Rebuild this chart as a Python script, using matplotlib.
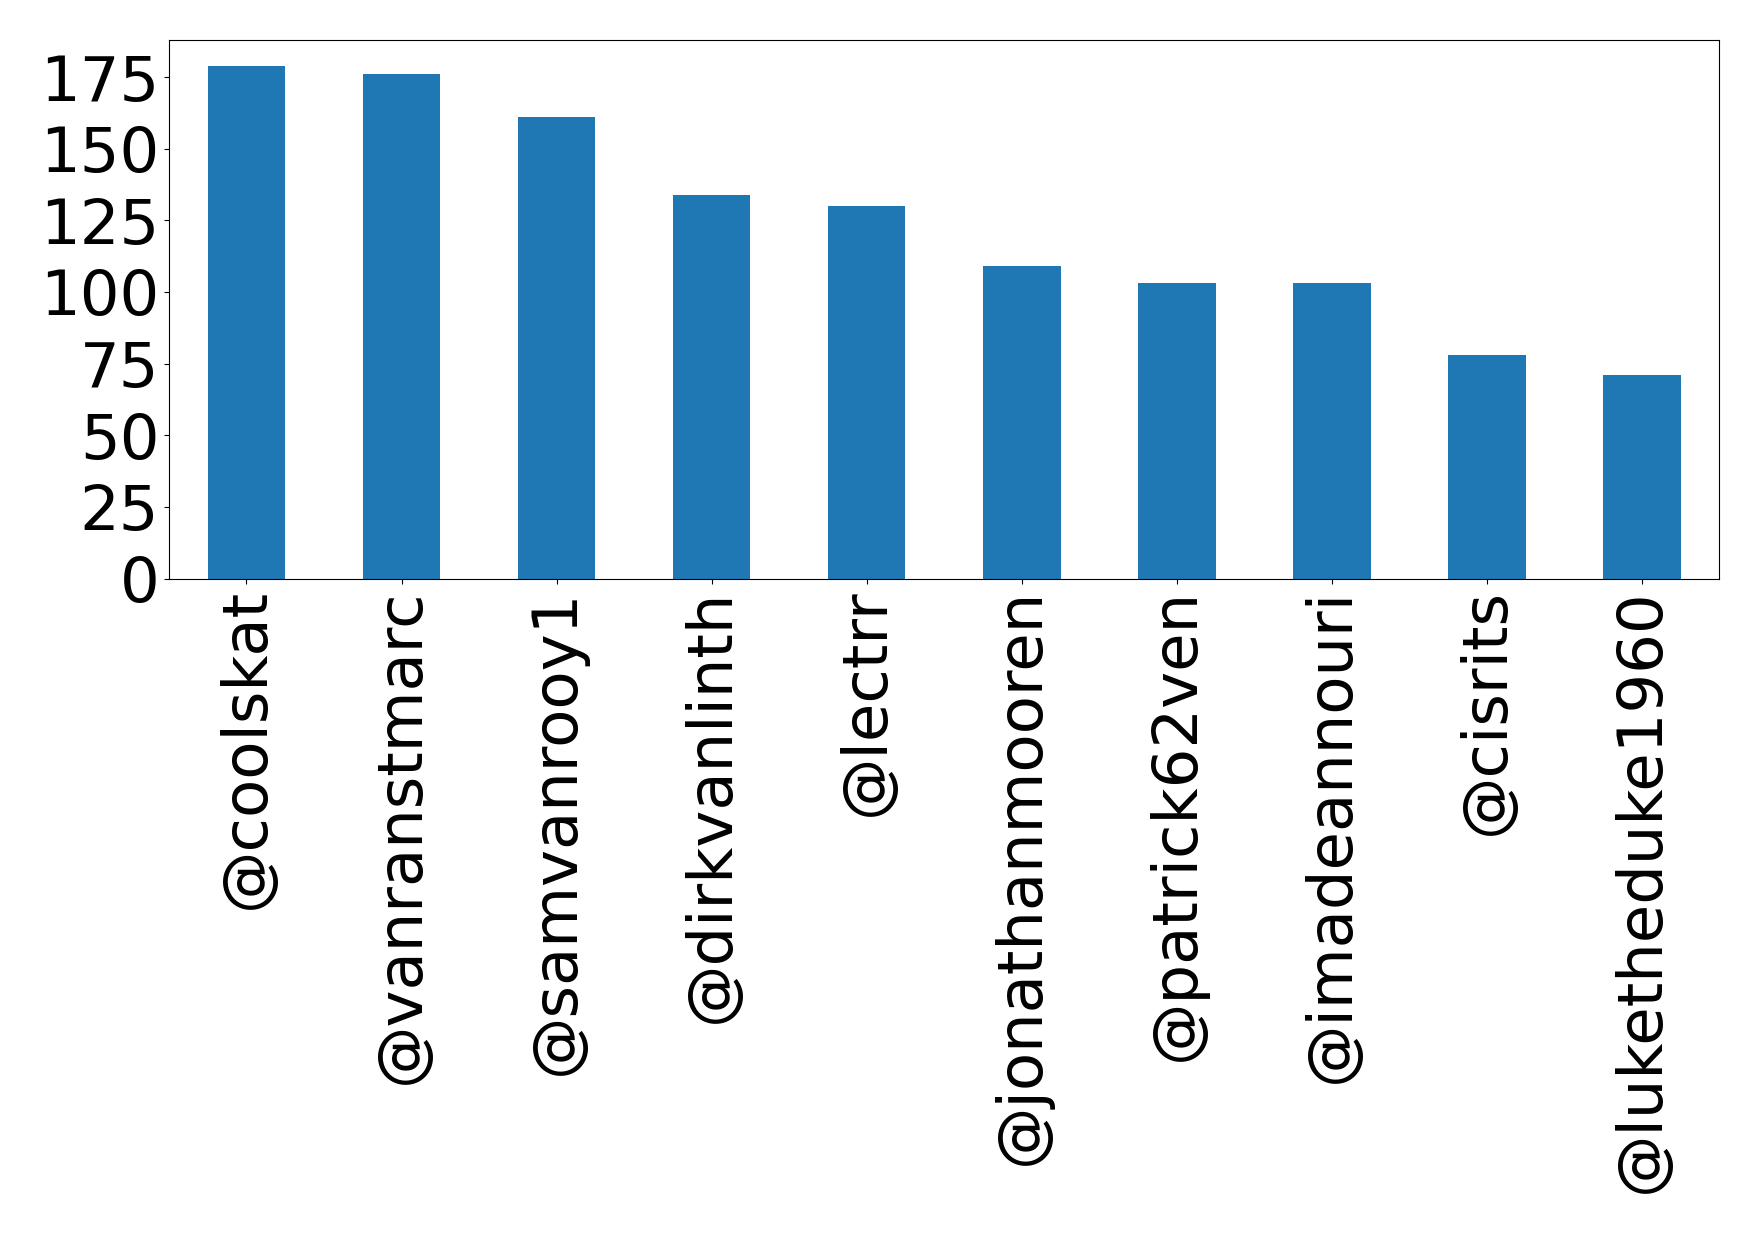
import matplotlib
matplotlib.use('Agg')
import matplotlib.pyplot as plt

# ------------------------------
# Data
# ------------------------------
users = ['@coolskat', '@vanranstmarc', '@samvanrooy1', '@dirkvanlinth', '@lectrr',
         '@jonathanmooren', '@patrick62ven', '@imadeannouri', '@cisrits', '@luketheduke1960']
counts = [179, 176, 161, 134, 130, 109, 103, 103, 78, 71]

# ------------------------------
# Plot
# ------------------------------
fig = plt.figure(figsize=(17.58, 12.33), dpi=100)
ax = fig.add_axes([0.0961, 0.5308, 0.882, 0.4368])
x = range(len(users))
ax.bar(x, counts, width=0.5, color='#1f77b4')
ax.set_xlim(-0.5, len(users) - 0.5)
ax.set_ylim(0, max(counts) * 1.05)
ax.set_yticks(range(0, 176, 25))
ax.set_xticks(list(x))
ax.set_xticklabels(users, rotation=90)
ax.tick_params(axis='both', labelsize=45)

fig.savefig('out.png', dpi=100)
